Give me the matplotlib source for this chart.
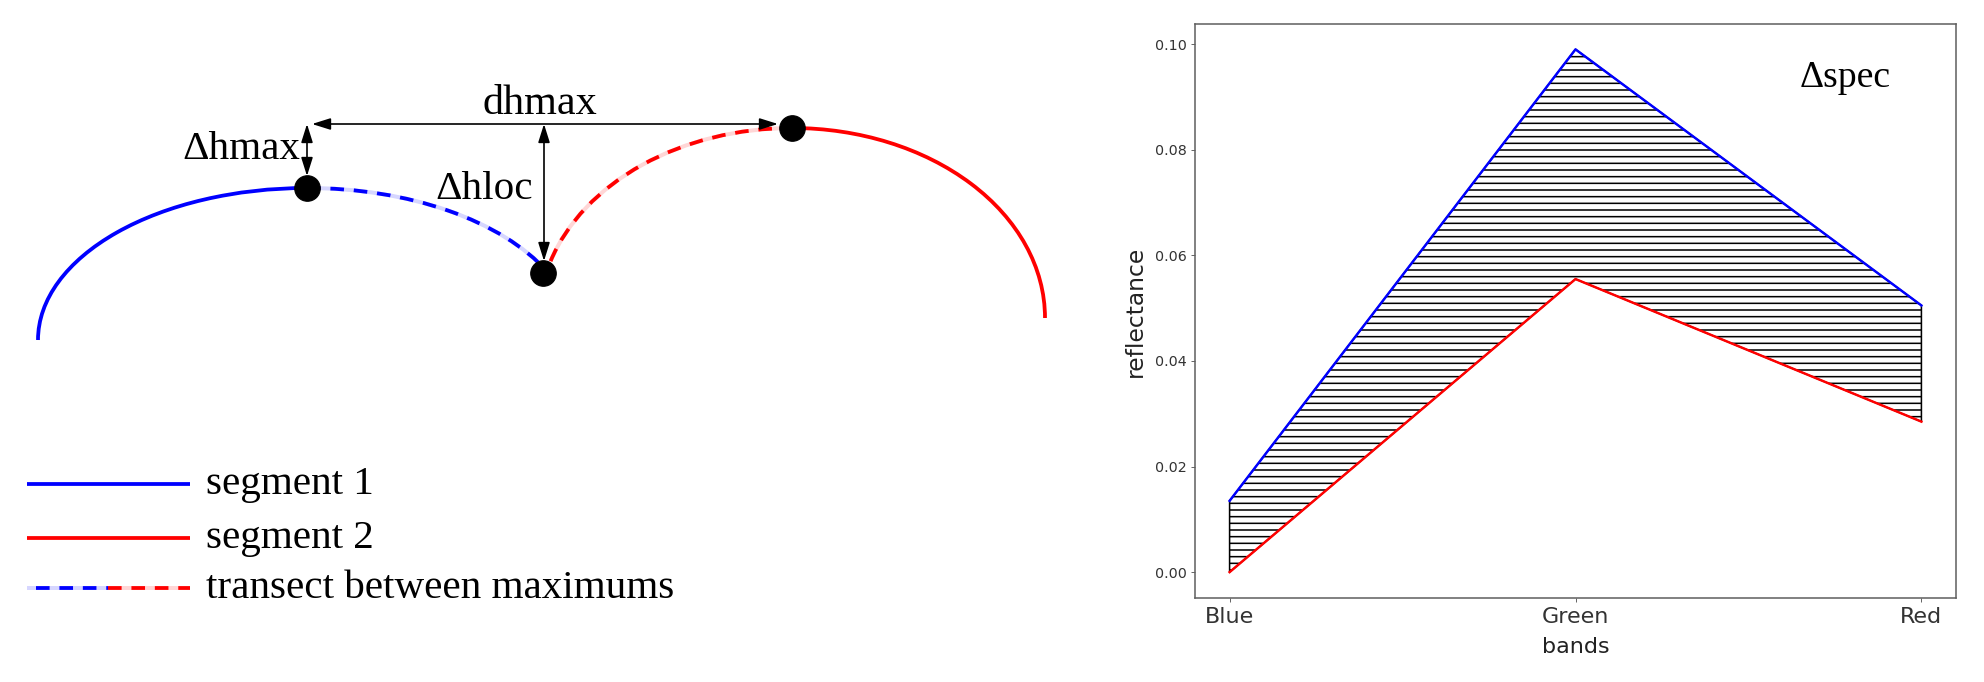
from matplotlib import pyplot as plt
from matplotlib.patches import Arc
import numpy as np

# right panel: spectral signature of the two segments
bands = ['Blue', 'Green', 'Red']
seg1_refl = [0.0135, 0.099, 0.0505]
seg2_refl = [0.0, 0.0555, 0.0285]

# left panel: schematic, in figure pixel units (y downwards)
seg1_center = (307, 340)
seg1_size = (538, 304)       # full width / height of the ellipse
seg2_center = (792, 318)
seg2_size = (506, 380)
point_x = [307, 543, 792]    # max of seg 1, local min, max of seg 2
point_y = [188, 273, 128]
legend_labels = ['segment 1', 'segment 2', 'transect between maximums']
legend_y = [484, 538, 588]

W, H, DPI = 1984, 682, 80
plt.rcParams['hatch.linewidth'] = 1.4
fig = plt.figure(figsize=(W / DPI, H / DPI), dpi=DPI)

serif = 'Liberation Serif'
blue, red = '#0000ff', '#ff0000'
lblue, lred = '#d6d6ff', '#ffd6d6'

# ---------------- left: diagram ----------------
ax0 = fig.add_axes([0, 0, 1100 / W, 1])
ax0.set_xlim(0, 1100)
ax0.set_ylim(H, 0)
ax0.axis('off')

def arc(center, size, t1, t2, color, dashed=False, under=None):
    if under is not None:
        ax0.add_patch(Arc(center, *size, theta1=t1, theta2=t2, color=under, lw=3.6))
    a = Arc(center, *size, theta1=t1, theta2=t2, color=color, lw=3.4)
    if dashed:
        a.set_linestyle((0, (3.6, 2.6)))
    ax0.add_patch(a)

# angle (seen from each ellipse centre) of the local minimum
ang1 = np.degrees(np.arctan2(point_y[1] - seg1_center[1], point_x[1] - seg1_center[0])) % 360
ang2 = np.degrees(np.arctan2(point_y[1] - seg2_center[1], point_x[1] - seg2_center[0])) % 360

arc(seg1_center, seg1_size, 180, 270, blue)
arc(seg1_center, seg1_size, 270, ang1, blue, dashed=True, under=lblue)
arc(seg2_center, seg2_size, 270, 360, red)
arc(seg2_center, seg2_size, ang2 + 3, 270, red, dashed=True, under=lred)

ax0.plot(point_x, point_y, 'o', color='black', ms=23, zorder=5)

arw = dict(arrowstyle='<|-|>,head_length=0.7,head_width=0.22', color='black',
           lw=1.5, mutation_scale=20, shrinkA=0, shrinkB=0)
ax0.annotate('', xy=(point_x[0] + 5, 124), xytext=(point_x[2] - 14, 124), arrowprops=arw)
ax0.annotate('', xy=(point_x[0], 124), xytext=(point_x[0], point_y[0] - 12), arrowprops=arw)
ax0.annotate('', xy=(point_x[1] + 1, 124), xytext=(point_x[1] + 1, point_y[1] - 12), arrowprops=arw)

ax0.text(540, 114, 'dhmax', ha='center', va='baseline', fontsize=38, family=serif)
ax0.text(300, 159, '\u0394hmax', ha='right', va='baseline', fontsize=37, family=serif)
ax0.text(533, 199, '\u0394hloc', ha='right', va='baseline', fontsize=37, family=serif)

# legend drawn by hand
ax0.plot([27, 190], [legend_y[0]] * 2, color=blue, lw=3.4, solid_capstyle='butt')
ax0.plot([27, 190], [legend_y[1]] * 2, color=red, lw=3.4, solid_capstyle='butt')
ax0.plot([27, 108], [legend_y[2]] * 2, color=lblue, lw=3.6, solid_capstyle='butt')
ax0.plot([108, 190], [legend_y[2]] * 2, color=lred, lw=3.6, solid_capstyle='butt')
ax0.plot([36, 108], [legend_y[2]] * 2, color=blue, lw=3.4, dashes=(3.6, 2.6))
ax0.plot([108, 190], [legend_y[2]] * 2, color=red, lw=3.4, dashes=(3.6, 2.6))
for lab, y in zip(legend_labels, legend_y):
    ax0.text(206, y + 10, lab, ha='left', va='baseline', fontsize=37, family=serif)

# ---------------- right: reflectance chart ----------------
ax = fig.add_axes([1195 / W, (H - 598) / H, (1956 - 1195) / W, (598 - 24) / H])
x = np.arange(len(bands))
ax.fill_between(x, seg2_refl, seg1_refl, facecolor='none', edgecolor='black',
                hatch='--', lw=1.4)
ax.plot(x, seg1_refl, color=blue, lw=2.2)
ax.plot(x, seg2_refl, color=red, lw=2.2)

ax.set_xticks(x)
ax.set_xticklabels(bands)
ax.set_yticks(np.arange(0, 0.101, 0.02))
ax.set_xlim(-0.1, 2.1)
ax.set_ylim(-0.0049, 0.1038)

ax.tick_params(axis='x', labelsize=20, labelcolor='#333333', color='#555555', pad=5)
ax.tick_params(axis='y', labelsize=12.8, labelcolor='#333333', color='#555555')
for s in ax.spines.values():
    s.set_color('#606060')
    s.set_linewidth(1.4)

ax.set_xlabel('bands', fontsize=20, color='#222222', labelpad=9)
ax.set_ylabel('reflectance', fontsize=21, color='#222222', labelpad=8)
ax.text(0.854, 0.906, '\u0394spec', transform=ax.transAxes, ha='center', va='center',
        fontsize=34, family=serif)

plt.savefig('out.png', dpi=DPI)
